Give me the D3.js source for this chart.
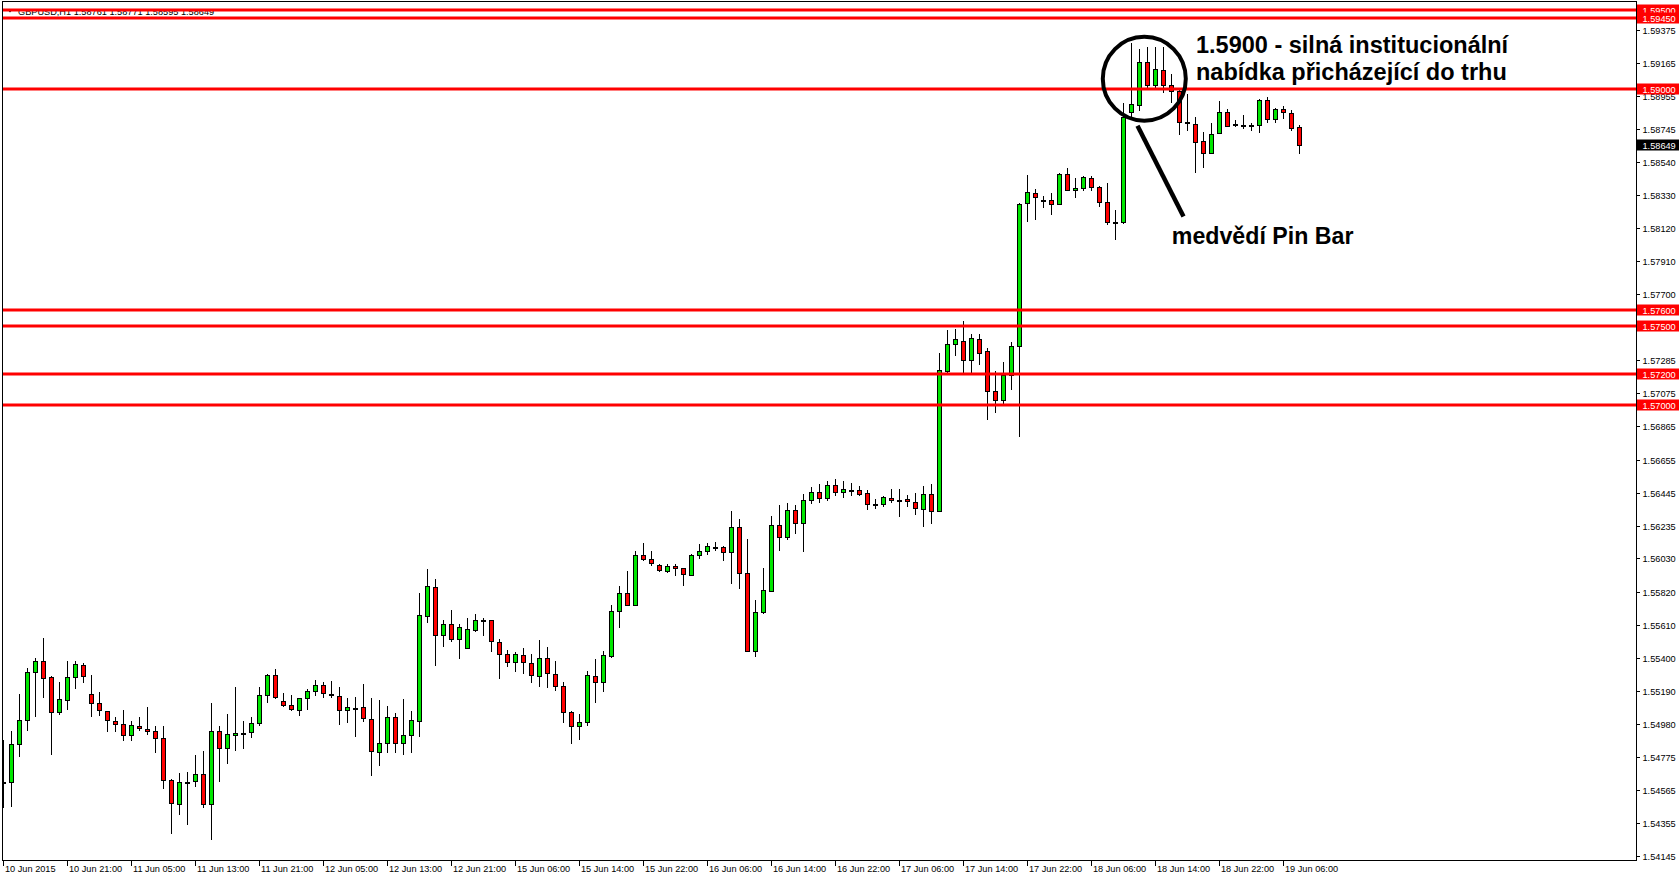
<!DOCTYPE html>
<html><head><meta charset="utf-8">
<script src="https://cdnjs.cloudflare.com/ajax/libs/d3/7.8.5/d3.min.js"></script>
<style>
html,body{margin:0;padding:0;background:#fff;overflow:hidden}
svg{display:block}
text{font-family:"Liberation Sans",Arial,sans-serif}
</style></head><body>
<svg id="c" width="1679" height="877"></svg>
<script>
// ---------- DATA ----------
const symbolTitle = "GBPUSD,H1";
const opens = [
1.54610,1.54613,1.54854,1.55006,1.55309,1.55379,1.55277,1.55056,1.55134,1.55277,
1.55354,1.55170,1.55113,1.55063,1.54999,1.54980,1.54911,1.54968,1.54949,1.54936,
1.54892,1.54626,1.54474,1.54615,1.54619,1.54664,1.54474,1.54936,1.54828,1.54911,
1.54925,1.54929,1.54987,1.55164,1.55290,1.55126,1.55100,1.55069,1.55145,1.55191,
1.55227,1.55170,1.55157,1.55069,1.55083,1.55088,1.55012,1.54803,1.54860,1.55024,
1.54860,1.54911,1.54999,1.55664,1.55848,1.55544,1.55613,1.55518,1.55461,1.55575,
1.55639,1.55639,1.55499,1.55423,1.55373,1.55417,1.55366,1.55284,1.55398,1.55297,
1.55221,1.55056,1.54968,1.54993,1.55284,1.55246,1.55411,1.55695,1.55809,1.55733,
1.56050,1.56025,1.55987,1.55949,1.55980,1.55968,1.55923,1.56050,1.56075,1.56105,
1.56101,1.56069,1.56227,1.55936,1.55442,1.55689,1.55822,1.56240,1.56164,1.56337,
1.56252,1.56400,1.56450,1.56410,1.56495,1.56450,1.56465,1.56461,1.56442,1.56377,
1.56377,1.56411,1.56402,1.56404,1.56385,1.56345,1.56436,1.56329,1.57215,1.57386,
1.57405,1.57284,1.57417,1.57341,1.57088,1.57031,1.57189,1.57373,1.58278,1.58341,
1.58297,1.58297,1.58272,1.58462,1.58360,1.58373,1.58436,1.58379,1.58284,1.58160,
1.58158,1.58854,1.58896,1.59171,1.59023,1.59120,1.59025,1.58989,1.58791,1.58778,
1.58671,1.58595,1.58719,1.58854,1.58778,1.58772,1.58772,1.58772,1.58930,1.58810,
1.58873,1.58848,1.58761];
const highs = [
1.54881,1.54938,1.55172,1.55335,1.55398,1.55526,1.55284,1.55248,1.55381,1.55381,
1.55366,1.55292,1.55185,1.55063,1.55026,1.55071,1.55001,1.55026,1.55090,1.54968,
1.54968,1.54632,1.54672,1.54678,1.54786,1.54811,1.55115,1.54968,1.55045,1.55214,
1.55003,1.55026,1.55214,1.55299,1.55330,1.55179,1.55164,1.55145,1.55204,1.55261,
1.55248,1.55254,1.55214,1.55147,1.55153,1.55233,1.55145,1.55134,1.55096,1.55052,
1.55140,1.55065,1.55811,1.55963,1.55898,1.55639,1.55704,1.55613,1.55651,1.55677,
1.55651,1.55639,1.55518,1.55449,1.55436,1.55461,1.55423,1.55512,1.55468,1.55379,
1.55246,1.55063,1.55044,1.55316,1.55392,1.55442,1.55733,1.55854,1.55949,1.56075,
1.56126,1.56075,1.55993,1.55993,1.55993,1.55968,1.56056,1.56120,1.56126,1.56132,
1.56107,1.56330,1.56280,1.56151,1.55765,1.55968,1.56300,1.56368,1.56380,1.56370,
1.56440,1.56480,1.56500,1.56520,1.56530,1.56520,1.56508,1.56489,1.56461,1.56404,
1.56423,1.56468,1.56468,1.56430,1.56442,1.56487,1.56501,1.57331,1.57474,1.57484,
1.57531,1.57449,1.57449,1.57360,1.57215,1.57272,1.57398,1.58278,1.58457,1.58367,
1.58322,1.58341,1.58468,1.58500,1.58436,1.58449,1.58449,1.58386,1.58405,1.58234,
1.58911,1.59291,1.59253,1.59269,1.59269,1.59266,1.59095,1.59006,1.58970,1.58823,
1.58728,1.58785,1.58924,1.58873,1.58801,1.58835,1.58785,1.58937,1.58949,1.58880,
1.58892,1.58867,1.58771];
const lows = [
1.54459,1.54465,1.54781,1.54946,1.55035,1.55155,1.54794,1.55047,1.55079,1.55212,
1.55250,1.55035,1.55041,1.54940,1.54940,1.54883,1.54883,1.54946,1.54921,1.54807,
1.54579,1.54294,1.54414,1.54351,1.54592,1.54459,1.54256,1.54623,1.54737,1.54819,
1.54832,1.54902,1.54974,1.55123,1.55149,1.55096,1.55069,1.55041,1.55079,1.55164,
1.55153,1.55151,1.54984,1.54997,1.54908,1.55003,1.54657,1.54724,1.54807,1.54807,
1.54794,1.54807,1.54908,1.55630,1.55357,1.55478,1.55509,1.55402,1.55461,1.55569,
1.55548,1.55446,1.55275,1.55351,1.55320,1.55307,1.55250,1.55225,1.55218,1.55199,
1.54993,1.54864,1.54889,1.54974,1.55123,1.55193,1.55404,1.55598,1.55733,1.55733,
1.56018,1.55987,1.55949,1.55942,1.55923,1.55860,1.55923,1.56031,1.56056,1.56082,
1.56018,1.55873,1.55841,1.55442,1.55411,1.55683,1.55822,1.56082,1.56151,1.56190,
1.56075,1.56380,1.56390,1.56400,1.56430,1.56420,1.56434,1.56432,1.56345,1.56351,
1.56364,1.56385,1.56301,1.56364,1.56313,1.56237,1.56256,1.56329,1.57202,1.57318,
1.57212,1.57204,1.57263,1.56915,1.56959,1.56999,1.57104,1.56803,1.58162,1.58177,
1.58253,1.58212,1.58272,1.58360,1.58316,1.58360,1.58360,1.58259,1.58145,1.58050,
1.58152,1.58826,1.58869,1.59006,1.59006,1.58981,1.58917,1.58717,1.58738,1.58474,
1.58506,1.58595,1.58719,1.58766,1.58766,1.58753,1.58740,1.58728,1.58791,1.58791,
1.58816,1.58740,1.58595];
const closes = [
1.54613,1.54854,1.55006,1.55309,1.55379,1.55275,1.55056,1.55138,1.55277,1.55360,
1.55284,1.55113,1.55069,1.55006,1.54980,1.54911,1.54974,1.54955,1.54936,1.54892,
1.54626,1.54480,1.54613,1.54617,1.54664,1.54474,1.54936,1.54828,1.54917,1.54923,
1.54925,1.54987,1.55164,1.55290,1.55155,1.55100,1.55075,1.55145,1.55191,1.55227,
1.55176,1.55167,1.55069,1.55088,1.55083,1.55018,1.54809,1.54860,1.55024,1.54860,
1.54911,1.55006,1.55670,1.55854,1.55544,1.55613,1.55518,1.55594,1.55582,1.55639,
1.55639,1.55506,1.55423,1.55373,1.55423,1.55373,1.55290,1.55398,1.55303,1.55221,
1.55056,1.54968,1.54993,1.55290,1.55246,1.55417,1.55695,1.55809,1.55733,1.56050,
1.56025,1.55999,1.55955,1.55980,1.55968,1.55930,1.56050,1.56075,1.56107,1.56105,
1.56069,1.56227,1.55936,1.55442,1.55689,1.55829,1.56240,1.56164,1.56337,1.56252,
1.56400,1.56450,1.56410,1.56495,1.56450,1.56470,1.56465,1.56440,1.56373,1.56377,
1.56417,1.56398,1.56402,1.56392,1.56351,1.56436,1.56329,1.57221,1.57386,1.57417,
1.57288,1.57424,1.57329,1.57088,1.57031,1.57189,1.57373,1.58274,1.58348,1.58316,
1.58297,1.58272,1.58462,1.58360,1.58373,1.58443,1.58379,1.58284,1.58158,1.58158,
1.58826,1.58905,1.59171,1.59023,1.59126,1.59023,1.58989,1.58791,1.58791,1.58668,
1.58595,1.58715,1.58854,1.58766,1.58778,1.58772,1.58772,1.58930,1.58810,1.58873,
1.58854,1.58753,1.58649];
const timeLabels = ["10 Jun 2015","10 Jun 21:00","11 Jun 05:00","11 Jun 13:00","11 Jun 21:00",
"12 Jun 05:00","12 Jun 13:00","12 Jun 21:00","15 Jun 06:00","15 Jun 14:00","15 Jun 22:00",
"16 Jun 06:00","16 Jun 14:00","16 Jun 22:00","17 Jun 06:00","17 Jun 14:00","17 Jun 22:00",
"18 Jun 06:00","18 Jun 14:00","18 Jun 22:00","19 Jun 06:00"];
const barsPerTimeLabel = 8;
const priceTicks = [1.59375,1.59165,1.58955,1.58745,1.58540,1.58330,1.58120,1.57910,1.57700,
1.57285,1.57075,1.56865,1.56655,1.56445,1.56235,1.56030,1.55820,1.55610,1.55400,1.55190,
1.54980,1.54775,1.54565,1.54355,1.54145];
const levels = [1.59500,1.59450,1.59000,1.57600,1.57500,1.57200,1.57000];
const priceRange = [1.54122,1.59557];
const annotationLines = ["1.5900 - silná institucionální","nabídka přicházející do trhu"];
const pinBarLabel = "medvědí Pin Bar";

// ---------- DRAW ----------
const svg = d3.select('#c');
const F = {l:2, t:1, r:1636, b:860};
const n = opens.length;
const x = d3.scaleLinear().domain([0, n-1]).range([3.5, 3.5 + 8*(n-1)]);
const y = d3.scaleLinear().domain(priceRange).range([F.b, F.t]);
const GREEN = '#00e600', RED = '#ff0000';

svg.append('defs').append('clipPath').attr('id','clip')
  .append('rect').attr('x',F.l).attr('y',F.t).attr('width',F.r-F.l).attr('height',F.b-F.t);

// title
const tg = svg.append('g');
tg.append('path').attr('d', d3.line()([[7,9],[13,9],[10,12.5]]) + 'Z').attr('fill','#000');
tg.append('text').attr('x',18).attr('y',14.5).attr('font-size','9.2px').attr('fill','#000')
  .text(symbolTitle + '  ' + [opens[n-1],highs[n-1],lows[n-1],closes[n-1]].map(v=>v.toFixed(5)).join(' '));

const data = opens.map((o,i)=>({i, o, h:highs[i], l:lows[i], c:closes[i]}));
const cg = svg.append('g').attr('clip-path','url(#clip)');
cg.selectAll('line.w').data(data).join('line').attr('class','w')
  .attr('x1',d=>x(d.i)).attr('x2',d=>x(d.i))
  .attr('y1',d=>Math.round(y(d.h))).attr('y2',d=>Math.round(y(d.l))+1)
  .attr('stroke','#000').attr('stroke-width',1).attr('shape-rendering','crispEdges');
cg.selectAll('rect.b').data(data).join('rect').attr('class','b')
  .attr('x',d=>x(d.i)-2).attr('width',4)
  .attr('y',d=>Math.round(y(Math.max(d.o,d.c)))+0.5)
  .attr('height',d=>Math.max(1, Math.round(y(Math.min(d.o,d.c))) - Math.round(y(Math.max(d.o,d.c)))))
  .attr('fill',d=>d.c>d.o?GREEN:(d.c<d.o?RED:'#000'))
  .attr('stroke','#000').attr('stroke-width',1).attr('shape-rendering','crispEdges');

// level lines
cg.selectAll('line.lv').data(levels).join('line').attr('class','lv')
  .attr('x1',F.l).attr('x2',F.r).attr('y1',d=>Math.round(y(d))).attr('y2',d=>Math.round(y(d)))
  .attr('stroke',RED).attr('stroke-width',3);

// frame
svg.append('rect').attr('x',F.l+0.5).attr('y',F.t+0.5).attr('width',F.r-F.l).attr('height',F.b-F.t)
  .attr('fill','none').attr('stroke','#000').attr('stroke-width',1).attr('shape-rendering','crispEdges');

// price axis
const pa = svg.append('g');
pa.selectAll('line').data(priceTicks).join('line')
  .attr('x1',F.r+1).attr('x2',F.r+4).attr('y1',d=>Math.round(y(d))+0.5).attr('y2',d=>Math.round(y(d))+0.5)
  .attr('stroke','#000').attr('shape-rendering','crispEdges');
pa.selectAll('text').data(priceTicks).join('text')
  .attr('x',F.r+6.5).attr('y',d=>Math.round(y(d))+4).attr('font-size','9.2px').attr('fill','#000')
  .text(d=>d.toFixed(5));

// level labels
const ll = svg.append('g');
levels.forEach(v=>{
  const yy = Math.round(y(v));
  ll.append('rect').attr('x',F.r+1).attr('y',yy-5.5).attr('width',1679-F.r-1).attr('height',11).attr('fill',RED);
  ll.append('text').attr('x',F.r+6.5).attr('y',yy+4).attr('font-size','9.2px').attr('fill','#fff').text(v.toFixed(5));
});
// current price label
{
  const v = closes[n-1], yy = Math.round(y(v));
  ll.append('rect').attr('x',F.r+1).attr('y',yy-5.5).attr('width',1679-F.r-1).attr('height',11).attr('fill','#000');
  ll.append('text').attr('x',F.r+6.5).attr('y',yy+4).attr('font-size','9.2px').attr('fill','#fff').text(v.toFixed(5));
}

// time axis
const ta = svg.append('g');
const tIdx = timeLabels.map((t,j)=>({t, i:j*barsPerTimeLabel}));
ta.selectAll('line').data(tIdx).join('line')
  .attr('x1',d=>x(d.i)).attr('x2',d=>x(d.i)).attr('y1',F.b+1).attr('y2',F.b+6)
  .attr('stroke','#000').attr('shape-rendering','crispEdges');
ta.selectAll('text').data(tIdx).join('text')
  .attr('x',d=>x(d.i)+1.5).attr('y',872).attr('font-size','9.2px').attr('fill','#000')
  .text(d=>d.t);

// annotations
const ag = svg.append('g');
ag.append('ellipse').attr('cx',x(142.6)).attr('cy',y(1.59065)).attr('rx',41.5).attr('ry',42)
  .attr('fill','none').attr('stroke','#000').attr('stroke-width',4);
ag.append('line').attr('x1',x(141.75)).attr('y1',y(1.58768)).attr('x2',x(147.5)).attr('y2',y(1.58194))
  .attr('stroke','#000').attr('stroke-width',4.5);
ag.selectAll('text.a').data(annotationLines).join('text').attr('class','a')
  .attr('x',x(149)+0.5).attr('y',(d,k)=>y(1.59228) - 0 + k*27)
  .attr('font-size','23.5px').attr('font-weight','bold').attr('fill','#000').text(d=>d);
ag.append('text').attr('x',x(146)+0.3).attr('y',y(1.58020))
  .attr('font-size','23.2px').attr('font-weight','bold').attr('fill','#000').text(pinBarLabel);
</script>
</body></html>
